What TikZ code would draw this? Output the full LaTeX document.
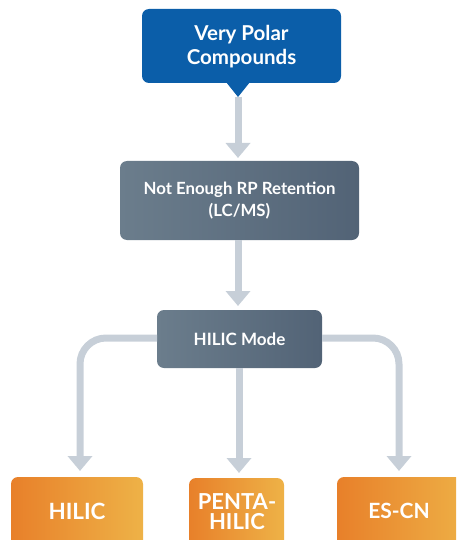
\documentclass[tikz,border=0pt]{standalone}
\usepackage{fontspec}
\setmainfont{Lato}
\usetikzlibrary{arrows.meta,shadings}
\definecolor{bluebox}{HTML}{0B5EA9}
\definecolor{slateL}{HTML}{6B7D8C}
\definecolor{slateR}{HTML}{526376}
\definecolor{orA}{HTML}{E8802A}
\definecolor{orB}{HTML}{EEB247}
\definecolor{conncol}{HTML}{C7CFD8}
\tikzset{
  conn/.style={draw=conncol, line width=7pt, -{Triangle[width=24pt,length=15pt]}},
  branch/.style={draw=conncol, line width=7pt, rounded corners=26pt, -{Triangle[width=24pt,length=15pt]}},
  txt/.style={text=white, font=\bfseries, align=center, inner sep=0pt},
  slatebox/.style={rounded corners=7pt, left color=slateL, right color=slateR, draw=none},
  orbox/.style={rounded corners=7pt, shading=axis, shading angle=135, left color=orA, right color=orB, draw=none}
}
\begin{document}
\begin{tikzpicture}[x=1pt,y=-1pt]
\useasboundingbox (0,0) rectangle (456,540);
\begin{scope}
\clip (0,0) rectangle (456,540);
% top box
\fill[bluebox, rounded corners=7pt] (142,9) rectangle (341,83);
\fill[bluebox] (226,82) -- (250,82) -- (238,97) -- cycle;
\node[txt, font=\bfseries\fontsize{20.5}{24}\selectfont] (top) at (241.5,47) {Very Polar\\Compounds};
\coordinate (toptip) at (238,97);
% middle box
\path[slatebox] (120,161) rectangle (359,240);
\node[txt, font=\bfseries\fontsize{16.8}{22}\selectfont] (mid) at (239.5,201) {Not Enough RP Retention\\(LC/MS)};
\coordinate (midtop) at (238,158);
\coordinate (midbot) at (238,240);
% hilic mode box
\path[slatebox] (157,310) rectangle (322,368);
\node[txt, font=\bfseries\fontsize{17}{20}\selectfont] (hm) at (239.5,339) {HILIC Mode};
\coordinate (hmtop) at (238,306);
\coordinate (hmleft) at (157,338);
\coordinate (hmright) at (322,338);
\coordinate (hmbot) at (239,368);
% bottom boxes
\path[orbox] (11,477) rectangle (143,560);
\node[txt, font=\bfseries\fontsize{22.4}{24}\selectfont] (b1) at (77,511) {HILIC};
\path[orbox] (189,478) rectangle (284,560);
\node[txt, font=\bfseries\fontsize{22}{20}\selectfont] (b2) at (237,512) {PENTA-\\HILIC};
\path[orbox] (337,477) rectangle (475,560);
\node[txt, font=\bfseries\fontsize{21}{24}\selectfont] (b3) at (399,511) {ES-CN};
\coordinate (t1) at (80,471);
\coordinate (t2) at (239,473);
\coordinate (t3) at (399,471);
\end{scope}
% connectors
\draw[conn] (toptip) -- (midtop);
\draw[conn] (midbot) -- (hmtop);
\draw[conn] (hmbot) -- (t2);
\draw[branch] (hmleft) -- (t1 |- hmleft) -- (t1);
\draw[branch] (hmright) -- (t3 |- hmright) -- (t3);
\end{tikzpicture}
\end{document}
